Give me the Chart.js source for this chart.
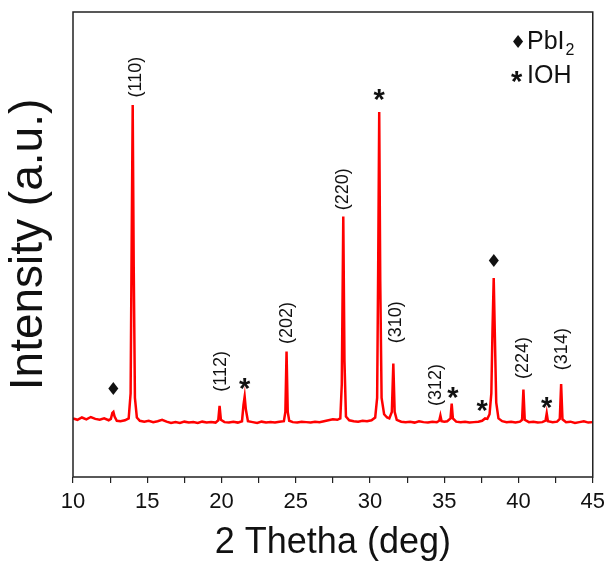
<!DOCTYPE html>
<html>
<head>
<meta charset="utf-8">
<script src="https://cdn.jsdelivr.net/npm/chart.js@4.4.1/dist/chart.umd.min.js"></script>
<style>
  body { margin: 0; background: #fff; }
</style>
</head>
<body>
<canvas id="xrd-chart" width="611" height="569"></canvas>
<script>
// XRD pattern (intensity in arbitrary units, 0-100 frame)
const twoTheta = [
  10.0, 10.3, 10.6, 10.9, 11.2, 11.5, 11.8, 12.1, 12.4, 12.55, 12.65, 12.72, 12.8, 12.95,
  13.2, 13.5, 13.75, 13.88, 13.95, 14.02, 14.09, 14.17, 14.3, 14.5, 14.8, 15.1, 15.4, 15.7,
  16.0, 16.3, 16.6, 16.9, 17.2, 17.5, 17.8, 18.1, 18.4, 18.7, 19.0, 19.3, 19.6, 19.78, 19.87,
  19.96, 20.2, 20.5, 20.8, 21.1, 21.38, 21.48, 21.56, 21.64, 21.78, 22.1, 22.4, 22.7, 23.0,
  23.3, 23.6, 23.9, 24.2, 24.3, 24.38, 24.46, 24.56, 24.8, 25.1, 25.4, 25.7, 26.0, 26.3, 26.6,
  26.9, 27.2, 27.5, 27.8, 28.0, 28.1, 28.2, 28.28, 28.38, 28.6, 28.9, 29.2, 29.5, 29.8, 30.1,
  30.35, 30.48, 30.55, 30.62, 30.69, 30.78, 30.95, 31.15, 31.3, 31.47, 31.57, 31.66, 31.8,
  32.1, 32.4, 32.7, 33.0, 33.3, 33.6, 33.9, 34.2, 34.5, 34.66, 34.74, 34.82, 35.0, 35.2,
  35.42, 35.5, 35.58, 35.8, 36.1, 36.4, 36.7, 37.0, 37.3, 37.55, 37.75, 37.9, 38.05, 38.17,
  38.25, 38.33, 38.41, 38.5, 38.65, 38.9, 39.2, 39.5, 39.8, 40.1, 40.24, 40.33, 40.42, 40.7,
  41.0, 41.3, 41.6, 41.82, 41.9, 41.98, 42.3, 42.6, 42.78, 42.87, 42.96, 43.2, 43.5, 43.8,
  44.1, 44.4, 44.7, 45.0
];
const intensity = [
  12.6, 12.3, 12.8, 12.4, 12.9, 12.5, 12.3, 12.6, 12.2, 12.5, 13.8, 14.0, 13.0, 12.1,
  12.0, 12.2, 12.6, 18.0, 50.0, 80.0, 45.0, 17.0, 12.8, 12.1, 11.9, 12.1, 11.8, 12.0,
  12.3, 11.9, 11.6, 11.8, 11.6, 11.9, 11.7, 11.8, 11.6, 11.9, 11.7, 11.8, 11.7, 12.2, 15.3,
  12.3, 11.8, 11.7, 11.9, 11.7, 12.0, 15.5, 17.3, 14.5, 12.0, 11.8, 11.6, 11.9, 11.7,
  11.8, 11.7, 11.9, 12.0, 14.0, 27.0, 14.0, 12.1, 11.8, 11.7, 11.9, 11.8, 11.7, 11.9, 11.8,
  12.0, 12.2, 12.4, 12.3, 12.6, 20.0, 56.0, 25.0, 13.0, 12.2, 12.0, 11.9, 12.1, 12.0, 12.2,
  12.8, 17.0, 45.0, 78.5, 42.0, 17.0, 13.5, 12.8, 12.6, 14.0, 24.4, 14.0, 12.3,
  11.9, 11.8, 11.9, 11.7, 12.0, 11.8, 11.7, 11.9, 11.8, 12.1, 13.2, 12.0, 11.9, 12.0,
  12.6, 15.8, 12.6, 11.9, 11.8, 11.9, 11.7, 11.8, 11.9, 12.1, 12.6, 12.5, 13.5, 18.0,
  32.0, 42.8, 30.0, 16.0, 12.6, 12.0, 11.8, 11.9, 11.7, 11.9, 12.3, 18.8, 12.3, 11.8,
  11.9, 11.7, 11.8, 12.1, 13.7, 12.0, 11.8, 11.9, 12.5, 20.0, 12.4, 11.8, 11.9, 11.6,
  11.8, 12.0, 11.7, 11.8
];

// Miller index labels (rotated) and where they sit
const hklLabels = ['(110)', '(112)', '(202)', '(220)', '(310)', '(312)', '(224)', '(314)'];
const hklX = [14.23, 19.99, 24.4, 28.2, 31.74, 34.43, 40.33, 42.92];
const hklY = [86, 22.7, 33.1, 61.9, 33.3, 19.8, 25.6, 27.5];

// phase markers
const pbi2X = [12.72, 38.33];
const pbi2Y = [18.6, 46.2];
const iohX = [21.56, 30.62, 35.58, 37.55, 41.9];
const iohY = [20.5, 82.6, 18.5, 15.7, 16.4];

const xTicks = [10, 15, 20, 25, 30, 35, 40, 45];

const FONT = '"Liberation Sans", Arial, sans-serif';

const overlay = {
    id: 'overlay',
    afterDatasetsDraw(chart) {
        const { ctx, chartArea: a, scales: { x, y } } = chart;
        ctx.save();
        // plot frame
        ctx.strokeStyle = '#222';
        ctx.lineWidth = 1.5;
        ctx.strokeRect(a.left, a.top, a.right - a.left, a.bottom - a.top);

        ctx.fillStyle = '#111';
        ctx.textAlign = 'center';

        // hkl labels
        ctx.font = '18px ' + FONT;
        ctx.textBaseline = 'middle';
        hklLabels.forEach((t, i) => {
            ctx.save();
            ctx.translate(x.getPixelForValue(hklX[i]), y.getPixelForValue(hklY[i]));
            ctx.rotate(-Math.PI / 2);
            ctx.fillText(t, 0, 0);
            ctx.restore();
        });

        // diamonds
        ctx.font = '18px "DejaVu Sans"';
        pbi2X.forEach((v, i) => {
            ctx.fillText('\u2666', x.getPixelForValue(v), y.getPixelForValue(pbi2Y[i]));
        });

        // asterisks
        ctx.font = 'bold 29px ' + FONT;
        ctx.textBaseline = 'alphabetic';
        iohX.forEach((v, i) => {
            ctx.fillText('*', x.getPixelForValue(v), y.getPixelForValue(iohY[i]) + 16);
        });

        // legend
        ctx.textAlign = 'left';
        ctx.textBaseline = 'middle';
        ctx.font = '18px "DejaVu Sans"';
        ctx.fillText('\u2666', 510, 43);
        ctx.font = '25px ' + FONT;
        ctx.fillText('PbI', 527, 42);
        const w = ctx.measureText('PbI').width;
        ctx.font = '16px ' + FONT;
        ctx.fillText('2', 527 + w + 1, 51);
        ctx.font = 'bold 29px ' + FONT;
        ctx.textBaseline = 'alphabetic';
        ctx.fillText('*', 511, 91);
        ctx.font = '25px ' + FONT;
        ctx.textBaseline = 'middle';
        ctx.fillText('IOH', 527, 76);
        ctx.restore();
    }
};

new Chart(document.getElementById('xrd-chart'), {
    type: 'line',
    data: {
        labels: twoTheta,
        datasets: [{
            data: intensity,
            borderColor: '#ff0000',
            borderWidth: 2.5,
            pointRadius: 0,
            tension: 0
        }]
    },
    options: {
        responsive: false,
        animation: false,
        layout: { padding: { top: 12, right: 17, left: 0, bottom: 0 } },
        plugins: {
            legend: { display: false },
            tooltip: { enabled: false }
        },
        scales: {
            x: {
                type: 'linear',
                min: 10,
                max: 45,
                afterFit: (s) => { s.height = 92; },
                border: { display: false },
                grid: { drawOnChartArea: false, tickLength: 6, color: '#222', lineWidth: 1.2 },
                ticks: {
                    stepSize: 2.5,
                    autoSkip: false,
                    maxRotation: 0,
                    padding: 6,
                    color: '#111',
                    font: { family: FONT, size: 22 },
                    callback: (v) => (xTicks.includes(v) ? v : '')
                },
                title: {
                    display: true,
                    text: '2 Thetha (deg)',
                    color: '#111',
                    font: { family: FONT, size: 36 },
                    padding: { top: 0, bottom: 4 }
                }
            },
            y: {
                min: 0,
                max: 100,
                afterFit: (s) => { s.width = 73; },
                border: { display: false },
                grid: { display: false },
                ticks: { display: false },
                title: {
                    display: true,
                    text: 'Intensity (a.u.)',
                    color: '#111',
                    font: { family: FONT, size: 46 },
                    padding: { top: 2, bottom: 0 }
                }
            }
        }
    },
    plugins: [overlay]
});
</script>
</body>
</html>
